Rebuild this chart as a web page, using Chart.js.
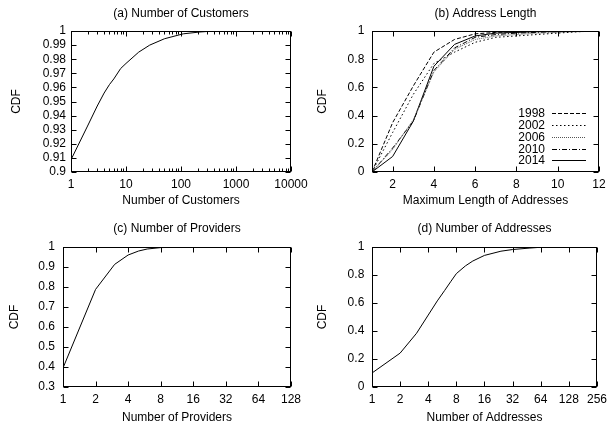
<!DOCTYPE html>
<html>
<head>
<meta charset="utf-8">
<script src="https://cdn.jsdelivr.net/npm/chart.js@4/dist/chart.umd.min.js"></script>
<style>
  body { margin: 0; background: #fff; width: 612px; height: 431px; position: relative; overflow: hidden; }
  canvas { position: absolute; }
</style>
</head>
<body>
<canvas id="cust" width="330" height="215" style="left:0;top:0"></canvas>
<canvas id="len" width="306" height="215" style="left:306px;top:0"></canvas>
<canvas id="prov" width="306" height="216" style="left:0;top:215px"></canvas>
<canvas id="addr" width="306" height="216" style="left:306px;top:215px"></canvas>
<script>
// (a) number of customers
const custX = [1, 2, 3, 4, 5, 6, 8, 10, 17, 27, 50, 110, 220, 400, 1000, 10000];
const custCdf = [0.9087, 0.9326, 0.9468, 0.956, 0.962, 0.966, 0.9734, 0.977, 0.985, 0.990, 0.9945, 0.998, 0.9993, 1, 1, 1];
const custXTicks = [1, 10, 100, 1000, 10000];
const custYTicks = [0.9, 0.91, 0.92, 0.93, 0.94, 0.95, 0.96, 0.97, 0.98, 0.99, 1];

// (b) address length, one series per year
const lenX = [1, 2, 3, 4, 5, 6, 7, 8, 9, 10, 11, 12];
const len1998 = [0, 0.35, 0.61, 0.85, 0.94, 0.98, 0.99, 0.995, 0.998, 1, 1, 1];
const len2002 = [0, 0.28, 0.55, 0.77, 0.85, 0.92, 0.955, 0.965, 0.975, 0.985, 0.995, 1];
const len2006 = [0, 0.16, 0.37, 0.71, 0.87, 0.94, 0.965, 0.975, 0.985, 0.99, 0.995, 1];
const len2010 = [0, 0.17, 0.36, 0.72, 0.88, 0.955, 0.975, 0.985, 0.99, 0.995, 1, 1];
const len2014 = [0, 0.11, 0.36, 0.75, 0.905, 0.965, 0.985, 0.99, 0.995, 1, 1, 1];
const lenXTicks = [2, 4, 6, 8, 10, 12];
const lenYTicks = [0, 0.2, 0.4, 0.6, 0.8, 1];

// (c) number of providers
const provX = [1, 2, 3, 4, 5, 6, 8, 12, 16, 128];
const provCdf = [0.395, 0.788, 0.913, 0.96, 0.98, 0.99, 0.997, 0.999, 1, 1];
const provXTicks = [1, 2, 4, 8, 16, 32, 64, 128];
const provYTicks = [0.3, 0.4, 0.5, 0.6, 0.7, 0.8, 0.9, 1];

// (d) number of addresses
const addrX = [1, 2, 3, 4, 5, 6, 7, 8, 10, 12, 16, 24, 32, 48, 64, 128, 256];
const addrCdf = [0.10, 0.242, 0.384, 0.514, 0.615, 0.69, 0.755, 0.81, 0.865, 0.90, 0.94, 0.97, 0.982, 0.992, 0.998, 1, 1];
const addrXTicks = [1, 2, 4, 8, 16, 32, 64, 128, 256];
const addrYTicks = [0, 0.2, 0.4, 0.6, 0.8, 1];

// minor ticks on the log10 axis of (a)
const custMinor = [];
[1, 10, 100, 1000].forEach(d => { for (let k = 2; k <= 9; k++) custMinor.push(d * k); });

const FONT = "'Liberation Sans', Arial, Helvetica, sans-serif";
Chart.defaults.font.family = FONT;
Chart.defaults.font.size = 12;
Chart.defaults.color = '#000';

function pts(xs, ys) {
  return xs.map((x, i) => ({ x: x, y: ys[i] }));
}

function fmt(v) {
  return String(+Number(v).toFixed(2));
}

// panel caption, centred over the plot box rather than the canvas
const captionPlugin = {
  id: 'caption',
  afterDraw(chart, args, opts) {
    const { ctx, chartArea: a } = chart;
    ctx.save();
    ctx.font = '12px ' + FONT;
    ctx.fillStyle = '#000';
    ctx.textAlign = 'center';
    ctx.textBaseline = 'middle';
    ctx.fillText(opts.text, (a.left + a.right) / 2, opts.y);
    ctx.restore();
  }
};

// box around the plot plus gnuplot style inward ticks on all four sides
const framePlugin = {
  id: 'frame',
  afterDraw(chart, args, opts) {
    const { ctx, chartArea: a } = chart;
    const xs = chart.scales.x, ys = chart.scales.y;
    const L = Math.round(a.left) + 0.5, R = Math.round(a.right) - 0.5;
    const T = Math.round(a.top) + 0.5, B = Math.round(a.bottom) - 0.5;
    ctx.save();
    ctx.strokeStyle = '#000';
    ctx.lineWidth = 1;
    ctx.setLineDash([]);
    ctx.beginPath();
    const tick = (x1, y1, x2, y2) => { ctx.moveTo(x1, y1); ctx.lineTo(x2, y2); };
    xs.ticks.forEach(t => {
      const p = Math.round(xs.getPixelForValue(t.value)) + 0.5;
      tick(p, B, p, B - 5); tick(p, T, p, T + 5);
    });
    (opts.minorX || []).forEach(v => {
      const p = Math.round(xs.getPixelForValue(v)) + 0.5;
      tick(p, B, p, B - 3); tick(p, T, p, T + 3);
    });
    ys.ticks.forEach(t => {
      const p = Math.round(ys.getPixelForValue(t.value)) + 0.5;
      tick(L, p, L + 5, p); tick(R, p, R - 5, p);
    });
    ctx.stroke();
    ctx.strokeRect(L, T, R - L, B - T);
    ctx.restore();
  }
};

// key for (b): label right aligned, line sample to the right of it
const keyPlugin = {
  id: 'key',
  afterDatasetsDraw(chart, args, opts) {
    if (!opts.show) return;
    const { ctx, chartArea: a } = chart;
    ctx.save();
    ctx.font = '12px ' + FONT;
    ctx.textAlign = 'right';
    ctx.textBaseline = 'middle';
    chart.data.datasets.forEach((ds, i) => {
      const y = Math.round(a.top + opts.top + i * opts.step) + 0.5;
      ctx.fillStyle = '#000';
      ctx.fillText(ds.label, a.right - 54, y);
      ctx.strokeStyle = ds.borderColor;
      ctx.lineWidth = ds.borderWidth;
      ctx.setLineDash(ds.borderDash || []);
      ctx.beginPath();
      ctx.moveTo(a.right - 47, y);
      ctx.lineTo(a.right - 13, y);
      ctx.stroke();
    });
    ctx.restore();
  }
};

function panel(id, cfg) {
  const line = (label, xs, ys, dash, color) => ({
    label: label,
    data: pts(xs, ys),
    showLine: true,
    borderColor: color || '#000',
    borderWidth: 1,
    borderDash: dash || [],
    pointRadius: 0,
    tension: 0,
    fill: false
  });
  return new Chart(document.getElementById(id), {
    type: 'scatter',
    data: { datasets: cfg.series.map(s => line(s[0], s[1], s[2], s[3], s[4])) },
    plugins: [framePlugin, keyPlugin, captionPlugin],
    options: {
      responsive: false,
      animation: false,
      layout: { padding: { top: cfg.plotTop, left: 0, right: cfg.padRight, bottom: 0 } },
      plugins: {
        legend: { display: false },
        tooltip: { enabled: false },
        title: { display: false },
        caption: { text: cfg.title, y: cfg.titleY },
        frame: { minorX: cfg.minorX },
        key: { show: !!cfg.key, top: 82, step: 11.85 }
      },
      scales: {
        x: {
          type: cfg.xType,
          min: cfg.xMin,
          max: cfg.xMax,
          grid: { display: false, drawTicks: false },
          border: { display: false },
          afterBuildTicks: s => { s.ticks = cfg.xTicks.map(v => ({ value: v })); },
          afterFit: s => { s.height = cfg.xHeight; },
          ticks: { autoSkip: false, maxRotation: 0, padding: 5, callback: v => String(v) },
          title: { display: true, text: cfg.xLabel, font: { size: 12 }, padding: { top: 0, bottom: cfg.xTitleBottom } }
        },
        y: {
          type: 'linear',
          min: cfg.yMin,
          max: 1,
          grid: { display: false, drawTicks: false },
          border: { display: false },
          afterBuildTicks: s => { s.ticks = cfg.yTicks.map(v => ({ value: v })); },
          afterFit: s => { s.width = cfg.yWidth; },
          ticks: { autoSkip: false, padding: cfg.yPad, callback: v => fmt(v) },
          title: { display: true, text: 'CDF', font: { size: 12 }, padding: { top: cfg.yTitleTop, bottom: 0 } }
        }
      }
    }
  });
}

panel('cust', {
  title: '(a) Number of Customers', xLabel: 'Number of Customers',
  series: [['customers', custX, custCdf]],
  xType: 'logarithmic', xMin: 1, xMax: 10000, xTicks: custXTicks, minorX: custMinor,
  yMin: 0.9, yTicks: custYTicks,
  yWidth: 71, padRight: 39, xHeight: 43, plotTop: 31, titleY: 13.5,
  xTitleBottom: 7, yTitleTop: 9.5, yPad: 5
});

panel('len', {
  title: '(b) Address Length', xLabel: 'Maximum Length of Addresses',
  series: [
    ['1998', lenX, len1998, [4, 2]],
    ['2002', lenX, len2002, [1.5, 2.5]],
    ['2006', lenX, len2006, [1, 1], '#555'],
    ['2010', lenX, len2010, [5, 2, 1, 2]],
    ['2014', lenX, len2014, []]
  ],
  key: true,
  xType: 'linear', xMin: 1, xMax: 12, xTicks: lenXTicks,
  yMin: 0, yTicks: lenYTicks,
  yWidth: 66, padRight: 13, xHeight: 43, plotTop: 31, titleY: 13.5,
  xTitleBottom: 7, yTitleTop: 9.5, yPad: 7.7
});

panel('prov', {
  title: '(c) Number of Providers', xLabel: 'Number of Providers',
  series: [['providers', provX, provCdf]],
  xType: 'logarithmic', xMin: 1, xMax: 128, xTicks: provXTicks,
  yMin: 0.3, yTicks: provYTicks,
  yWidth: 63, padRight: 14, xHeight: 44, plotTop: 32, titleY: 13.5,
  xTitleBottom: 6, yTitleTop: 7.8, yPad: 8
});

panel('addr', {
  title: '(d) Number of Addresses', xLabel: 'Number of Addresses',
  series: [['addresses', addrX, addrCdf]],
  xType: 'logarithmic', xMin: 1, xMax: 256, xTicks: addrXTicks,
  yMin: 0, yTicks: addrYTicks,
  yWidth: 66, padRight: 12, xHeight: 44, plotTop: 32, titleY: 13.5,
  xTitleBottom: 6, yTitleTop: 9.5, yPad: 7.7
});
</script>
</body>
</html>
